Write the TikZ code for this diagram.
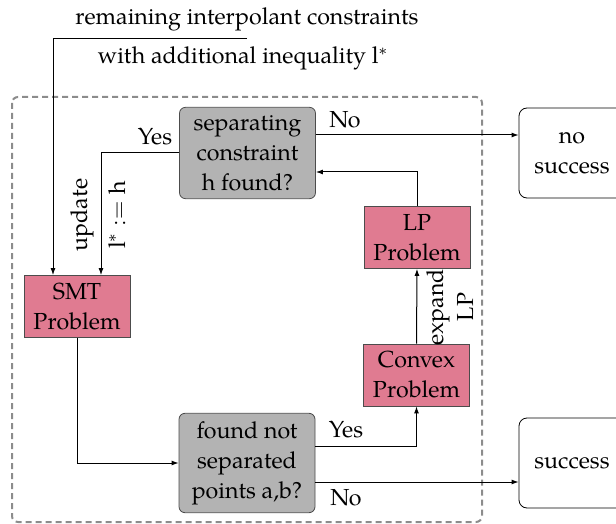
\documentclass[tikz,border=0pt]{standalone}
\usepackage{fontspec}
\setmainfont{TeX Gyre Pagella}
\usetikzlibrary{arrows.meta,calc}
\definecolor{boxpink}{RGB}{224,123,145}
\definecolor{boxgray}{RGB}{179,179,179}
\definecolor{dashgray}{RGB}{140,140,140}
\begin{document}
\begin{tikzpicture}[x=0.5pt,y=-0.5pt,
  font=\fontsize{11.6}{15}\selectfont,
  probbox/.style={draw=black!70, fill=boxpink, align=center, minimum width=53pt, minimum height=31pt, inner sep=2pt},
  decbox/.style={draw=black!70, fill=boxgray, rounded corners=3pt, align=center, minimum width=68pt, inner xsep=3pt, inner ysep=4pt},
  endbox/.style={draw=black, rounded corners=4pt, align=center, minimum width=53pt, minimum height=45pt},
  conn/.style={draw=black, line width=0.5pt, -{Latex[length=3.5pt,width=2.5pt]}},
  lbl/.style={inner sep=0pt},
]
\useasboundingbox (0,0) rectangle (616,524);
\draw[dashgray, line width=1pt, dash pattern=on 3pt off 2pt, rounded corners=3pt] (12,97) rectangle (482,522);

\node[decbox] (sep) at (247.5,153) {separating\\constraint\\$\mathrm{h}$ found?};
\node[decbox] (fnd) at (247,463) {found not\\separated\\points a,b?};
\node[probbox] (smt) at (77,306.5) {SMT\\Problem};
\node[probbox] (lp) at (417,237.5) {LP\\Problem};
\node[probbox] (cvx) at (416.5,375) {Convex\\Problem};
\node[endbox] (nos) at (572,153) {no\\success};
\node[endbox] (suc) at (572,463) {success};
\node[lbl, anchor=base] (t1) at (247,25) {remaining interpolant constraints};
\node[lbl, anchor=base] (t2) at (243,64) {with additional inequality $\mathrm{l}^*$};
\coordinate (inp) at (247,39);

\draw[conn] (inp) -| ($(smt.north)+(-24,0)$);
\draw[conn] (sep.west) -| ($(smt.north)+(24,0)$);
\draw[conn] ($(sep.east)+(0,-18)$) -- ($(nos.west)+(0,-18)$);
\draw[conn] (lp.north) |- ($(sep.east)+(0,19)$);
\draw[conn] (cvx.north) -- (lp.south);
\draw[conn] (smt.south) |- (fnd.west);
\draw[conn] ($(fnd.east)+(0,-17)$) -| (cvx.south);
\draw[conn] ($(fnd.east)+(0,19)$) -- ($(suc.west)+(0,19)$);

\node[lbl] (y1) at (155,137) {Yes};
\node[lbl] (n1) at (345,120) {No};
\node[lbl, rotate=90] (up) at (82,215) {update};
\node[lbl, rotate=90] (asg) at (117,215) {$\mathrm{l}^* := \mathrm{h}$};
\node[lbl, rotate=90, align=center] (exp) at (450,307) {expand\\LP};
\node[lbl] (y2) at (346,430) {Yes};
\node[lbl] (n2) at (346,498) {No};
\end{tikzpicture}
\end{document}
